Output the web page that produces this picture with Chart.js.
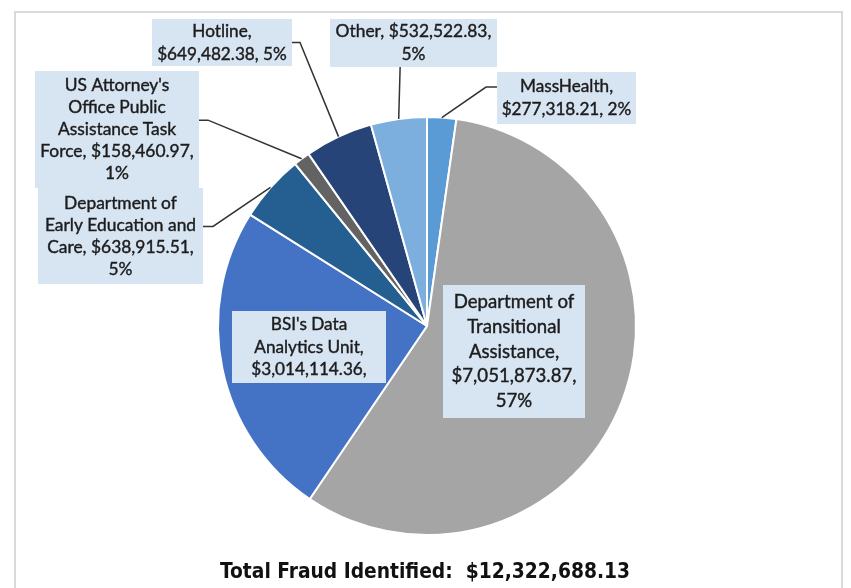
<!DOCTYPE html>
<html><head><meta charset="utf-8">
<script src="https://cdn.jsdelivr.net/npm/chart.js@4/dist/chart.umd.min.js"></script>
<style>html,body{margin:0;padding:0;background:#fff;overflow:hidden}canvas{display:block}</style>
</head><body>
<canvas id="c" width="851" height="588"></canvas>
<script>
// ---- data ----
const categories = ["MassHealth", "Department of Transitional Assistance", "BSI's Data Analytics Unit",
  "Department of Early Education and Care", "US Attorney's Office Public Assistance Task Force", "Hotline", "Other"];
const values = [277318.21, 7051873.87, 3014114.36, 638915.51, 158460.97, 649482.38, 532522.83];
const labelLines = [
  ["MassHealth,", "$277,318.21, 2%"],
  ["Department of", "Transitional", "Assistance,", "$7,051,873.87,", "57%"],
  ["BSI's Data", "Analytics Unit,", "$3,014,114.36,"],
  ["Department of", "Early Education and", "Care, $638,915.51,", "5%"],
  ["US Attorney's", "Office Public", "Assistance Task", "Force, $158,460.97,", "1%"],
  ["Hotline,", "$649,482.38, 5%"],
  ["Other, $532,522.83,", "5%"]
];
const titleText = "Total Fraud Identified:  $12,322,688.13";

// ---- styles ----
const colors = ["#5B9BD5", "#A5A5A5", "#4472C4", "#255E91", "#636363", "#264478", "#7CAFDD"];
// label boxes: offsets from pie centre (dx,dy of top-left), size, font, line height, leader anchor
const labelLayout = [
  {dx: 70,   dy: -254, w: 139, h: 52,  size: 17.2, lh: 23, leader: {side: "left",  f: 0.29, elbow: 11}},
  {dx: 16,   dy: -41,  w: 142, h: 133, size: 18.6, lh: 24.7, leader: null},
  {dx: -195, dy: -15,  w: 154, h: 72,  size: 17.2, lh: 22.5, leader: null},
  {dx: -389, dy: -138, w: 165, h: 96,  size: 17.4, lh: 22, leader: {side: "right", f: 0.40, elbow: 10}},
  {dx: -392, dy: -255, w: 164, h: 117, size: 17.4, lh: 22, leader: {side: "right", f: 0.42, elbow: 9}},
  {dx: -275, dy: -307, w: 140, h: 47,  size: 17.2, lh: 23, leader: {side: "right", f: 0.5, elbow: 8}},
  {dx: -97,  dy: -307, w: 167, h: 48,  size: 17.4, lh: 23, leader: {side: "bottom", f: 0.42, elbow: 0}}
];
const LABEL_FONT = "Lato, 'Open Sans', sans-serif";
const BOX_FILL = "#D7E4F2";
const TEXT_COLOR = "#1c1c1c";
const LEADER_COLOR = "#333333";
const TITLE_FONT = "'DejaVu Sans Condensed', 'DejaVu Sans', sans-serif";
const TITLE_WIDTH = 410;

const framePlugin = {
  id: "frame",
  beforeDraw(chart) {
    const ctx = chart.ctx;
    ctx.save();
    ctx.fillStyle = "#ffffff";
    ctx.fillRect(0, 0, chart.width, chart.height);
    ctx.strokeStyle = "#D9D9D9";
    ctx.lineWidth = 2;
    ctx.strokeRect(15, 12, 827, 640);
    ctx.restore();
  }
};

const labelPlugin = {
  id: "boxLabels",
  afterDatasetsDraw(chart) {
    const ctx = chart.ctx;
    const arcs = chart.getDatasetMeta(0).data;
    ctx.save();
    arcs.forEach((arc, i) => {
      const L = labelLayout[i];
      const p = arc.getProps(["x", "y", "startAngle", "endAngle", "outerRadius"], true);
      const bx = p.x + L.dx, by = p.y + L.dy;
      if (L.leader) {
        const mid = (p.startAngle + p.endAngle) / 2;
        const ex = p.x + Math.cos(mid) * p.outerRadius;
        const ey = p.y + Math.sin(mid) * p.outerRadius;
        let sx, sy, mx, my;
        if (L.leader.side === "right") { sx = bx + L.w; sy = by + L.h * L.leader.f; mx = sx + L.leader.elbow; my = sy; }
        else if (L.leader.side === "left") { sx = bx; sy = by + L.h * L.leader.f; mx = sx - L.leader.elbow; my = sy; }
        else { sx = bx + L.w * L.leader.f; sy = by + L.h; mx = sx; my = sy + L.leader.elbow; }
        ctx.beginPath();
        ctx.moveTo(sx, sy); ctx.lineTo(mx, my); ctx.lineTo(ex, ey);
        ctx.strokeStyle = LEADER_COLOR; ctx.lineWidth = 1.5; ctx.stroke();
      }
      ctx.fillStyle = BOX_FILL;
      ctx.fillRect(bx, by, L.w, L.h);
      const lines = labelLines[i];
      ctx.fillStyle = TEXT_COLOR;
      ctx.strokeStyle = TEXT_COLOR;
      ctx.lineWidth = 0.4;
      ctx.font = L.size + "px " + LABEL_FONT;
      ctx.textAlign = "center";
      ctx.textBaseline = "middle";
      const cy = by + L.h / 2;
      lines.forEach((t, k) => {
        const ty = cy + (k - (lines.length - 1) / 2) * L.lh;
        ctx.fillText(t, bx + L.w / 2, ty);
        ctx.strokeText(t, bx + L.w / 2, ty);
      });
    });
    // total title, sized to the reference width
    ctx.font = "bold 20px " + TITLE_FONT;
    const fs = 20 * TITLE_WIDTH / ctx.measureText(titleText).width;
    ctx.font = "bold " + fs.toFixed(2) + "px " + TITLE_FONT;
    ctx.fillStyle = "#111111";
    ctx.textAlign = "center";
    ctx.textBaseline = "middle";
    ctx.fillText(titleText, 425, 573);
    ctx.restore();
  }
};

new Chart(document.getElementById("c"), {
  type: "pie",
  data: {
    labels: categories,
    datasets: [{
      data: values,
      backgroundColor: colors,
      borderColor: "#ffffff",
      borderWidth: 2
    }]
  },
  options: {
    responsive: false,
    animation: false,
    events: [],
    layout: {padding: {left: 217, right: 214, top: 116, bottom: 52}},
    plugins: {legend: {display: false}, tooltip: {enabled: false}, title: {display: false}}
  },
  plugins: [framePlugin, labelPlugin]
});
</script>
</body></html>
